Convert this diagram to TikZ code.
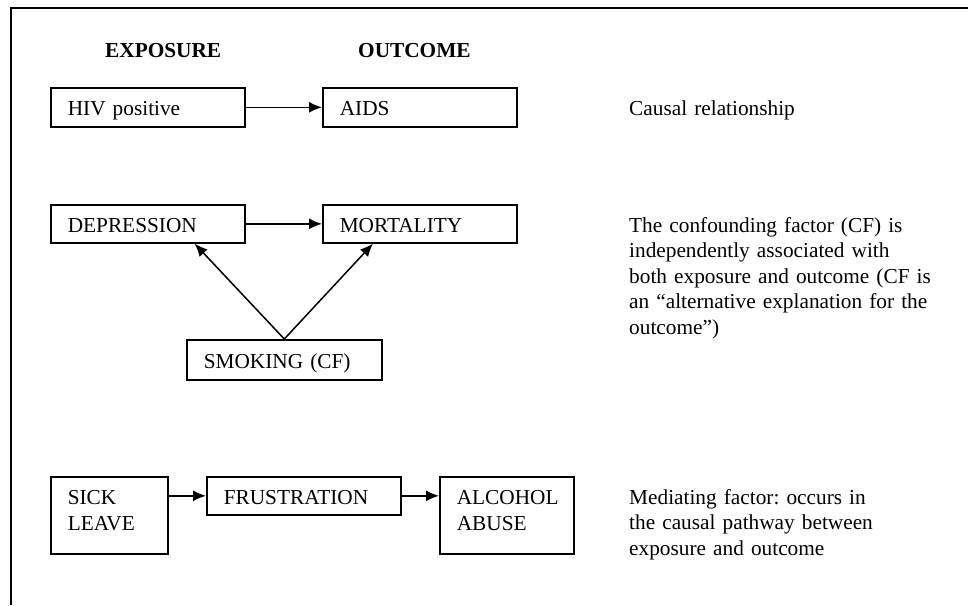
\documentclass[tikz,border=0pt]{standalone}
\usepackage{fontspec}
\setmainfont{Liberation Serif}
\usetikzlibrary{arrows.meta,calc}
\frenchspacing
\begin{document}
\begin{tikzpicture}[x=1pt,y=-1pt,
  every node/.style={font=\fontsize{21.3}{25.5}\selectfont},
  box/.style={draw,line width=1.6pt,anchor=north west,inner xsep=17pt,inner ysep=0pt,align=left,text height=28pt,text depth=11pt},
  twoline/.style={text depth=49pt},
  note/.style={anchor=base west,inner sep=0pt,text width=330pt,align=left},
  head/.style={anchor=base west,inner sep=0pt,font=\fontsize{21.3}{25.5}\selectfont\bfseries},
  conn/.style={line width=1.5pt,-{Latex[length=13pt,width=11pt]}}]
\useasboundingbox (0,0) rectangle (968,605);
\draw[line width=1.7pt] (11,605) -- (11,8) -- (968,8);
% headers
\node[head] (hexp) at (105,57) {EXPOSURE};
\node[head] (hout) at (358,57) {OUTCOME};
% row 1
\node[box,text width=160pt] (hiv) at (50,87) {HIV positive};
\node[box,text width=160pt] (aids) at (322,87) {AIDS};
\draw[conn] (hiv.east) -- (aids.west);
\node[note] (n1) at (629,115) {Causal relationship};
% row 2
\node[box,text width=160pt,text depth=10pt] (dep) at (50,204) {DEPRESSION};
\node[box,text width=160pt,text depth=10pt] (mort) at (322,204) {MORTALITY};
\draw[conn] (dep.east) -- (mort.west);
\node[box,text width=161pt,text depth=11pt,text height=29pt] (smk) at (186,339) {SMOKING (CF)};
\draw[conn] (smk.north) -- ($(dep.south east)+(-51,0)$);
\draw[conn] (smk.north) -- ($(mort.south west)+(51,0)$);
\node[note] (n2) at (629,232) {The confounding factor (CF) is\\independently associated with\\both exposure and outcome (CF is\\an “alternative explanation for the\\outcome”)};
% row 3
\node[box,text width=83pt,twoline] (sick) at (50,476) {SICK\\LEAVE};
\node[box,text width=160pt,text depth=10pt] (frus) at (206,476) {FRUSTRATION};
\node[box,text width=100pt,twoline] (alc) at (439,476) {ALCOHOL\\ABUSE};
\draw[conn] (sick.east |- frus.west) -- (frus.west);
\draw[conn] (frus.east) -- (alc.west |- frus.east);
\node[note] (n3) at (629,504) {Mediating factor: occurs in\\the causal pathway between\\exposure and outcome};
\end{tikzpicture}
\end{document}
